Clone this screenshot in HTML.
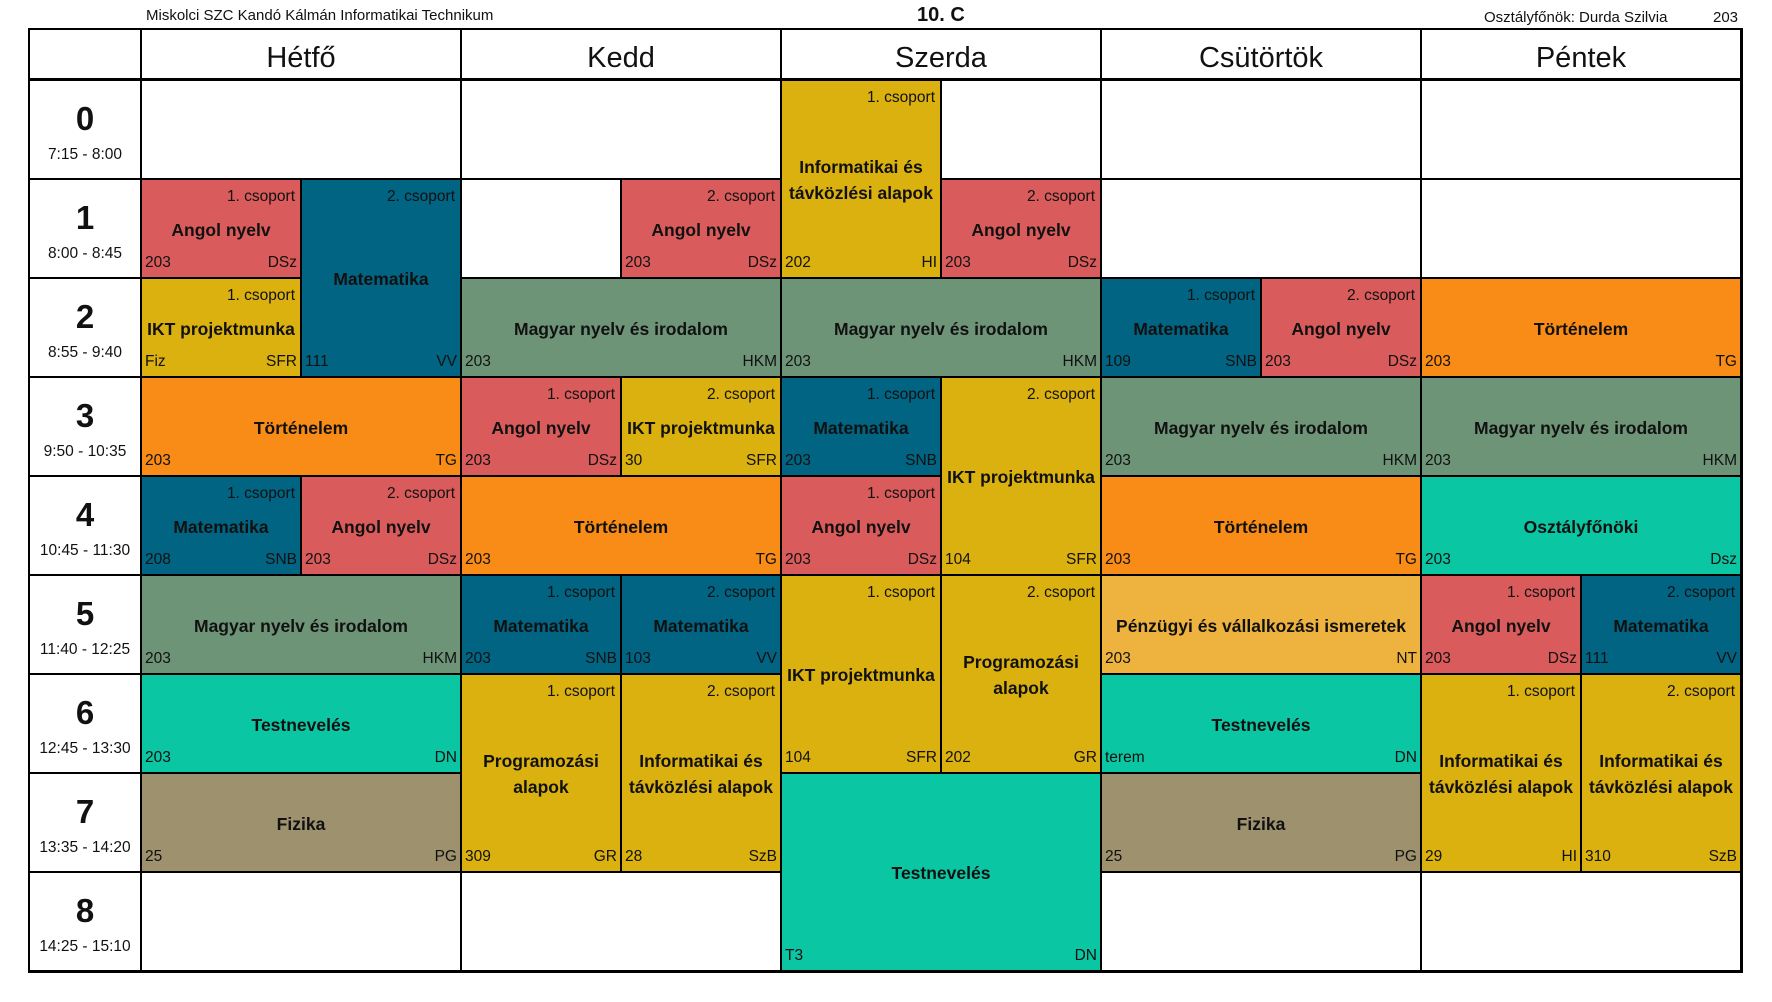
<!DOCTYPE html>
<html><head><meta charset="utf-8"><style>
*{margin:0;padding:0;box-sizing:border-box}
body{width:1772px;height:1002px;background:#fff;position:relative;overflow:hidden;font-family:"Liberation Sans",sans-serif;color:#111}
.c{position:absolute;border:1px solid #000}
.c .g{position:absolute;right:5px;top:8px;font-size:15.5px;line-height:18px}
.c .t{position:absolute;left:0;right:0;top:0;bottom:0;display:flex;align-items:center;justify-content:center;text-align:center;font-weight:bold;font-size:17.5px;line-height:26px;padding:2px 4px 0}
.c .r{position:absolute;left:3px;bottom:5px;font-size:15.5px;line-height:18px}
.c .k{position:absolute;right:3px;bottom:5px;font-size:15.5px;line-height:18px}
.hd{position:absolute;top:29px;height:51px;border:1px solid #000;border-bottom:2px solid #000;display:flex;align-items:center;justify-content:center;font-size:29px;padding-top:9px}
.tm{position:absolute;left:29px;width:112px;height:99px;border:1px solid #000;text-align:center}
.tm b{display:block;font-size:33px;margin-top:19px;line-height:38px}
.tm span{display:block;font-size:15.5px;margin-top:8px}
.red{background:#d95b5b}.blu{background:#006482}.yel{background:#dab10f}.grn{background:#6e9478}.orn{background:#f98c16}.cya{background:#0bc6a3}.kha{background:#9e916e}.lor{background:#eeb23e}
.e{position:absolute;border:1px solid #000;background:#fff}
</style></head><body>
<div style="position:absolute;left:146px;top:7px;font-size:15px">Miskolci SZC Kandó Kálmán Informatikai Technikum</div>
<div style="position:absolute;left:917px;top:4px;font-size:20px;font-weight:bold">10. C</div>
<div style="position:absolute;left:1484px;top:9px;font-size:15px">Osztályfőnök: Durda Szilvia</div>
<div style="position:absolute;left:1713px;top:9px;font-size:15px">203</div>

<div class="hd" style="left:29px;width:112px"></div>
<div class="hd" style="left:141px;width:320px">Hétfő</div>
<div class="hd" style="left:461px;width:320px">Kedd</div>
<div class="hd" style="left:781px;width:320px">Szerda</div>
<div class="hd" style="left:1101px;width:320px">Csütörtök</div>
<div class="hd" style="left:1421px;width:320px">Péntek</div>

<div class="tm" style="top:80px"><b>0</b><span>7:15 - 8:00</span></div>
<div class="tm" style="top:179px"><b>1</b><span>8:00 - 8:45</span></div>
<div class="tm" style="top:278px"><b>2</b><span>8:55 - 9:40</span></div>
<div class="tm" style="top:377px"><b>3</b><span>9:50 - 10:35</span></div>
<div class="tm" style="top:476px"><b>4</b><span>10:45 - 11:30</span></div>
<div class="tm" style="top:575px"><b>5</b><span>11:40 - 12:25</span></div>
<div class="tm" style="top:674px"><b>6</b><span>12:45 - 13:30</span></div>
<div class="tm" style="top:773px"><b>7</b><span>13:35 - 14:20</span></div>
<div class="tm" style="top:872px"><b>8</b><span>14:25 - 15:10</span></div>

<div class="e" style="left:141px;top:80px;width:320px;height:99px"></div>
<div class="e" style="left:461px;top:80px;width:320px;height:99px"></div>
<div class="e" style="left:941px;top:80px;width:160px;height:99px"></div>
<div class="e" style="left:1101px;top:80px;width:320px;height:99px"></div>
<div class="e" style="left:1421px;top:80px;width:320px;height:99px"></div>
<div class="e" style="left:461px;top:179px;width:160px;height:99px"></div>
<div class="e" style="left:1101px;top:179px;width:320px;height:99px"></div>
<div class="e" style="left:1421px;top:179px;width:320px;height:99px"></div>
<div class="e" style="left:141px;top:872px;width:320px;height:99px"></div>
<div class="e" style="left:461px;top:872px;width:320px;height:99px"></div>
<div class="e" style="left:1101px;top:872px;width:320px;height:99px"></div>
<div class="e" style="left:1421px;top:872px;width:320px;height:99px"></div>

<div class="c red" style="left:141px;top:179px;width:160px;height:99px"><span class="g">1. csoport</span><span class="t">Angol nyelv</span><span class="r">203</span><span class="k">DSz</span></div>
<div class="c blu" style="left:301px;top:179px;width:160px;height:198px"><span class="g">2. csoport</span><span class="t">Matematika</span><span class="r">111</span><span class="k">VV</span></div>
<div class="c yel" style="left:141px;top:278px;width:160px;height:99px"><span class="g">1. csoport</span><span class="t">IKT projektmunka</span><span class="r">Fiz</span><span class="k">SFR</span></div>
<div class="c orn" style="left:141px;top:377px;width:320px;height:99px"><span class="t">Történelem</span><span class="r">203</span><span class="k">TG</span></div>
<div class="c blu" style="left:141px;top:476px;width:160px;height:99px"><span class="g">1. csoport</span><span class="t">Matematika</span><span class="r">208</span><span class="k">SNB</span></div>
<div class="c red" style="left:301px;top:476px;width:160px;height:99px"><span class="g">2. csoport</span><span class="t">Angol nyelv</span><span class="r">203</span><span class="k">DSz</span></div>
<div class="c grn" style="left:141px;top:575px;width:320px;height:99px"><span class="t">Magyar nyelv és irodalom</span><span class="r">203</span><span class="k">HKM</span></div>
<div class="c cya" style="left:141px;top:674px;width:320px;height:99px"><span class="t">Testnevelés</span><span class="r">203</span><span class="k">DN</span></div>
<div class="c kha" style="left:141px;top:773px;width:320px;height:99px"><span class="t">Fizika</span><span class="r">25</span><span class="k">PG</span></div>

<div class="c red" style="left:621px;top:179px;width:160px;height:99px"><span class="g">2. csoport</span><span class="t">Angol nyelv</span><span class="r">203</span><span class="k">DSz</span></div>
<div class="c grn" style="left:461px;top:278px;width:320px;height:99px"><span class="t">Magyar nyelv és irodalom</span><span class="r">203</span><span class="k">HKM</span></div>
<div class="c red" style="left:461px;top:377px;width:160px;height:99px"><span class="g">1. csoport</span><span class="t">Angol nyelv</span><span class="r">203</span><span class="k">DSz</span></div>
<div class="c yel" style="left:621px;top:377px;width:160px;height:99px"><span class="g">2. csoport</span><span class="t">IKT projektmunka</span><span class="r">30</span><span class="k">SFR</span></div>
<div class="c orn" style="left:461px;top:476px;width:320px;height:99px"><span class="t">Történelem</span><span class="r">203</span><span class="k">TG</span></div>
<div class="c blu" style="left:461px;top:575px;width:160px;height:99px"><span class="g">1. csoport</span><span class="t">Matematika</span><span class="r">203</span><span class="k">SNB</span></div>
<div class="c blu" style="left:621px;top:575px;width:160px;height:99px"><span class="g">2. csoport</span><span class="t">Matematika</span><span class="r">103</span><span class="k">VV</span></div>
<div class="c yel" style="left:461px;top:674px;width:160px;height:198px"><span class="g">1. csoport</span><span class="t">Programozási<br>alapok</span><span class="r">309</span><span class="k">GR</span></div>
<div class="c yel" style="left:621px;top:674px;width:160px;height:198px"><span class="g">2. csoport</span><span class="t">Informatikai és<br>távközlési alapok</span><span class="r">28</span><span class="k">SzB</span></div>

<div class="c yel" style="left:781px;top:80px;width:160px;height:198px"><span class="g">1. csoport</span><span class="t">Informatikai és<br>távközlési alapok</span><span class="r">202</span><span class="k">HI</span></div>
<div class="c red" style="left:941px;top:179px;width:160px;height:99px"><span class="g">2. csoport</span><span class="t">Angol nyelv</span><span class="r">203</span><span class="k">DSz</span></div>
<div class="c grn" style="left:781px;top:278px;width:320px;height:99px"><span class="t">Magyar nyelv és irodalom</span><span class="r">203</span><span class="k">HKM</span></div>
<div class="c blu" style="left:781px;top:377px;width:160px;height:99px"><span class="g">1. csoport</span><span class="t">Matematika</span><span class="r">203</span><span class="k">SNB</span></div>
<div class="c yel" style="left:941px;top:377px;width:160px;height:198px"><span class="g">2. csoport</span><span class="t">IKT projektmunka</span><span class="r">104</span><span class="k">SFR</span></div>
<div class="c red" style="left:781px;top:476px;width:160px;height:99px"><span class="g">1. csoport</span><span class="t">Angol nyelv</span><span class="r">203</span><span class="k">DSz</span></div>
<div class="c yel" style="left:781px;top:575px;width:160px;height:198px"><span class="g">1. csoport</span><span class="t">IKT projektmunka</span><span class="r">104</span><span class="k">SFR</span></div>
<div class="c yel" style="left:941px;top:575px;width:160px;height:198px"><span class="g">2. csoport</span><span class="t">Programozási<br>alapok</span><span class="r">202</span><span class="k">GR</span></div>
<div class="c cya" style="left:781px;top:773px;width:320px;height:198px"><span class="t">Testnevelés</span><span class="r">T3</span><span class="k">DN</span></div>

<div class="c blu" style="left:1101px;top:278px;width:160px;height:99px"><span class="g">1. csoport</span><span class="t">Matematika</span><span class="r">109</span><span class="k">SNB</span></div>
<div class="c red" style="left:1261px;top:278px;width:160px;height:99px"><span class="g">2. csoport</span><span class="t">Angol nyelv</span><span class="r">203</span><span class="k">DSz</span></div>
<div class="c grn" style="left:1101px;top:377px;width:320px;height:99px"><span class="t">Magyar nyelv és irodalom</span><span class="r">203</span><span class="k">HKM</span></div>
<div class="c orn" style="left:1101px;top:476px;width:320px;height:99px"><span class="t">Történelem</span><span class="r">203</span><span class="k">TG</span></div>
<div class="c lor" style="left:1101px;top:575px;width:320px;height:99px"><span class="t">Pénzügyi és vállalkozási ismeretek</span><span class="r">203</span><span class="k">NT</span></div>
<div class="c cya" style="left:1101px;top:674px;width:320px;height:99px"><span class="t">Testnevelés</span><span class="r">terem</span><span class="k">DN</span></div>
<div class="c kha" style="left:1101px;top:773px;width:320px;height:99px"><span class="t">Fizika</span><span class="r">25</span><span class="k">PG</span></div>

<div class="c orn" style="left:1421px;top:278px;width:320px;height:99px"><span class="t">Történelem</span><span class="r">203</span><span class="k">TG</span></div>
<div class="c grn" style="left:1421px;top:377px;width:320px;height:99px"><span class="t">Magyar nyelv és irodalom</span><span class="r">203</span><span class="k">HKM</span></div>
<div class="c cya" style="left:1421px;top:476px;width:320px;height:99px"><span class="t">Osztályfőnöki</span><span class="r">203</span><span class="k">Dsz</span></div>
<div class="c red" style="left:1421px;top:575px;width:160px;height:99px"><span class="g">1. csoport</span><span class="t">Angol nyelv</span><span class="r">203</span><span class="k">DSz</span></div>
<div class="c blu" style="left:1581px;top:575px;width:160px;height:99px"><span class="g">2. csoport</span><span class="t">Matematika</span><span class="r">111</span><span class="k">VV</span></div>
<div class="c yel" style="left:1421px;top:674px;width:160px;height:198px"><span class="g">1. csoport</span><span class="t">Informatikai és<br>távközlési alapok</span><span class="r">29</span><span class="k">HI</span></div>
<div class="c yel" style="left:1581px;top:674px;width:160px;height:198px"><span class="g">2. csoport</span><span class="t">Informatikai és<br>távközlési alapok</span><span class="r">310</span><span class="k">SzB</span></div>

<div style="position:absolute;left:28px;top:28px;width:1715px;height:945px;border:2px solid #000"></div>
</body></html>
